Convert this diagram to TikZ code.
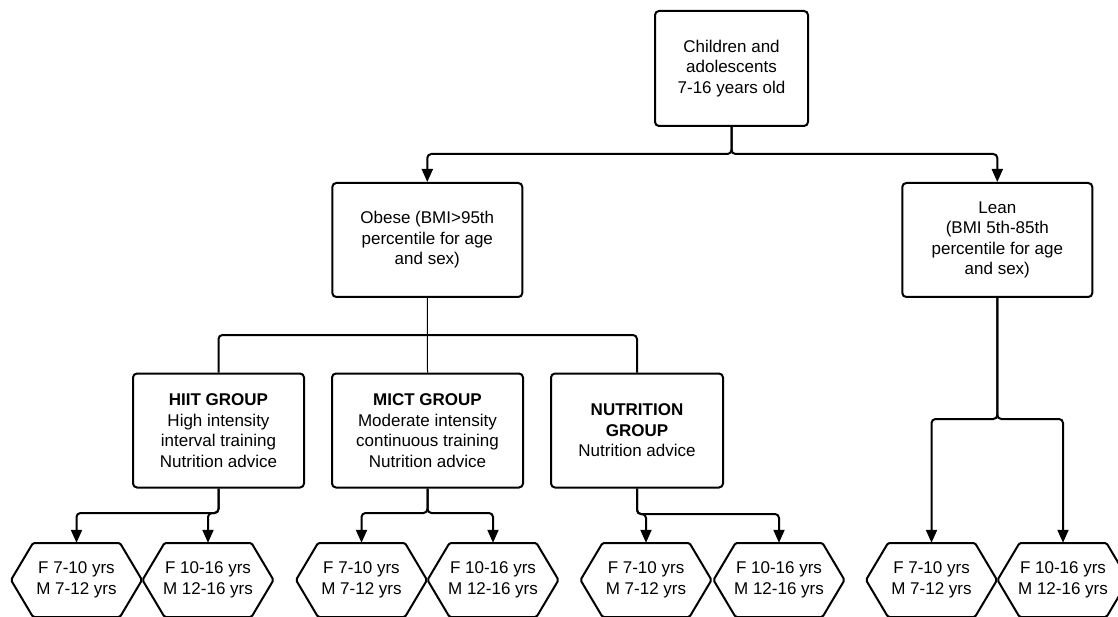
\documentclass[tikz,border=0pt]{standalone}
\usepackage{fontspec}
\setmainfont{Liberation Sans}
\usetikzlibrary{arrows.meta,calc}
\begin{document}
\begin{tikzpicture}[x=1pt,y=-1pt,
  txt/.style={font=\fontsize{17}{20.6}\selectfont},
  box/.style={txt, draw, line width=2pt, rounded corners=4pt, align=center, inner sep=0pt},
  hexnode/.style={txt, inner sep=0pt, minimum width=131pt, minimum height=74pt, align=center},
  hexline/.style={draw, line width=2pt, line join=round, rounded corners=1.5pt},
  conn/.style={line width=2pt, rounded corners=4pt},
  arr/.style={conn, -{Triangle[length=13pt,width=11pt]}},
  thinline/.style={line width=1pt}]
\path[use as bounding box] (0,0) rectangle (1118,617);
\clip (0,0) rectangle (1118,617);

% boxes
\node[box, minimum width=153pt, minimum height=115pt] (top) at (731.5,68.5)
  {Children and\\adolescents\\7-16 years old};
\node[box, minimum width=190pt, minimum height=114pt] (obese) at (427.3,240)
  {Obese (BMI>95th\\percentile for age\\and sex)};
\node[box, minimum width=190pt, minimum height=114pt] (lean) at (997.3,240)
  {Lean\\(BMI 5th-85th\\percentile for age\\and sex)};
\node[box, minimum width=171pt, minimum height=114pt] (hiit) at (218.5,430.5)
  {\textbf{HIIT GROUP}\\High intensity\\interval training\\Nutrition advice};
\node[box, minimum width=191pt, minimum height=114pt] (mict) at (427.5,430.5)
  {\textbf{MICT GROUP}\\Moderate intensity\\continuous training\\Nutrition advice};
\node[box, minimum width=172pt, minimum height=114pt] (nut) at (637,430.5)
  {\textbf{NUTRITION}\\\textbf{GROUP}\\Nutrition advice};

% hexagon nodes
\node[hexnode] (h1) at (76.5,580) {F 7-10 yrs\\M 7-12 yrs};
\node[hexnode] (h2) at (208,580) {F 10-16 yrs\\M 12-16 yrs};
\node[hexnode] (h3) at (361.5,580) {F 7-10 yrs\\M 7-12 yrs};
\node[hexnode] (h4) at (493,580) {F 10-16 yrs\\M 12-16 yrs};
\node[hexnode] (h5) at (646,580) {F 7-10 yrs\\M 7-12 yrs};
\node[hexnode] (h6) at (779,580) {F 10-16 yrs\\M 12-16 yrs};
\node[hexnode] (h7) at (931.5,580) {F 7-10 yrs\\M 7-12 yrs};
\node[hexnode] (h8) at (1063,580) {F 10-16 yrs\\M 12-16 yrs};
\foreach \n in {h1,h2,h3,h4,h5,h6,h7,h8}
  \draw[hexline] ([xshift=-65.5pt]\n.center) -- ([xshift=-43.5pt,yshift=37pt]\n.center)
    -- ([xshift=43.5pt,yshift=37pt]\n.center) -- ([xshift=65.5pt]\n.center)
    -- ([xshift=43.5pt,yshift=-37pt]\n.center) -- ([xshift=-43.5pt,yshift=-37pt]\n.center) -- cycle;

% junction coordinates
\coordinate (j1) at (731.5,154);
\coordinate (j2) at (427.3,335);
\coordinate (j3) at (218.5,513);
\coordinate (j4) at (427.5,513);
\coordinate (j5) at (637,514);
\coordinate (j6) at (997.3,419);

% top split
\draw[arr] (top.south) -- (top.south |- j1) -| (obese.north);
\draw[arr] (top.south) -- (top.south |- j1) -| (lean.north);

% obese to groups
\draw[thinline] (obese.south) -- (mict.north);
\draw[conn] (hiit.north) -- (hiit.north |- j2) -- (nut.north |- j2) -- (nut.north);

% groups to hexagons
\draw[arr] (hiit.south) -- (hiit.south |- j3) -| (h1.north);
\draw[arr] (hiit.south) -- (hiit.south |- j3) -| (h2.north);
\draw[arr] (mict.south) -- (mict.south |- j4) -| (h3.north);
\draw[arr] (mict.south) -- (mict.south |- j4) -| (h4.north);
\draw[arr] (nut.south) -- (nut.south |- j5) -| (h5.north);
\draw[arr] (nut.south) -- (nut.south |- j5) -| (h6.north);
\draw[arr] (lean.south) -- (lean.south |- j6) -| (h7.north);
\draw[arr] (lean.south) -- (lean.south |- j6) -| (h8.north);
\end{tikzpicture}
\end{document}
